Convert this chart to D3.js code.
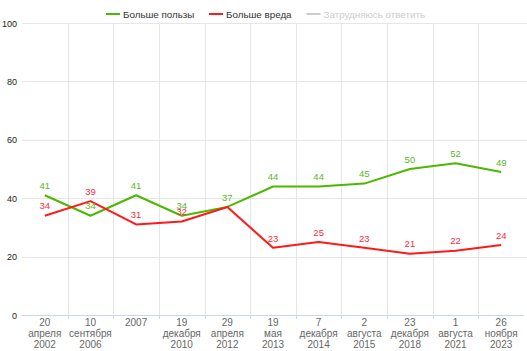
<!DOCTYPE html>
<html><head><meta charset="utf-8">
<script src="https://cdn.jsdelivr.net/npm/d3@7"></script>
<style>body{margin:0;background:#fff;}svg{display:block;font-family:"Liberation Sans",Arial,sans-serif;}</style>
</head><body>
<svg id="c" width="527" height="351"></svg>
<script>
const categories = [
  ["20","апреля","2002"],["10","сентября","2006"],["2007"],["19","декабря","2010"],
  ["29","апреля","2012"],["19","мая","2013"],["7","декабря","2014"],["2","августа","2015"],
  ["23","декабря","2018"],["1","августа","2021"],["26","ноября","2023"]
];
const benefit = [41,34,41,34,37,44,44,45,50,52,49];
const harm = [34,39,31,32,37,23,25,23,21,22,24];
const yTicks = [0,20,40,60,80,100];
const seriesNames = ["Больше пользы","Больше вреда","Затрудняюсь ответить"];
const seriesColors = ["#4cb800","#ff1a1a","#cccccc"];
const labelColors = ["#5cb81a","#ff2a3a"];

(function(){
const svg = d3.select("#c");
const pl = 22, pr = 524, pt = 23, pb = 315;
const x = d3.scaleBand().domain(d3.range(categories.length)).range([pl,pr]);
const y = d3.scaleLinear().domain([0,100]).range([pb,pt]);

svg.append("g").selectAll("line").data(yTicks.filter(d=>d>0)).join("line")
  .attr("x1",pl).attr("x2",527).attr("y1",d=>Math.round(y(d))+0.5).attr("y2",d=>Math.round(y(d))+0.5)
  .attr("stroke","#e6e6e6");
const bounds = d3.range(1,categories.length).map(i=>x(i));
svg.append("g").selectAll("line").data(bounds).join("line")
  .attr("x1",d=>Math.round(d)+0.5).attr("x2",d=>Math.round(d)+0.5).attr("y1",pt).attr("y2",pb)
  .attr("stroke","#e6e6e6");
svg.append("line").attr("x1",pl).attr("x2",pr).attr("y1",pb+0.5).attr("y2",pb+0.5).attr("stroke","#ccd6eb");
svg.append("g").selectAll("line").data(bounds).join("line")
  .attr("x1",d=>Math.round(d)+0.5).attr("x2",d=>Math.round(d)+0.5).attr("y1",pb).attr("y2",pb+4)
  .attr("stroke","#ccd6eb");
svg.append("g").selectAll("text").data(yTicks).join("text")
  .attr("x",17).attr("y",d=>y(d)+3.5).attr("text-anchor","end")
  .attr("font-size",9).attr("fill","#222").text(d=>d);
const xl = svg.append("g").selectAll("text").data(categories).join("text")
  .attr("text-anchor","middle").attr("font-size",10).attr("fill","#666");
xl.each(function(d,i){
  const t = d3.select(this);
  d.forEach((s,j)=>t.append("tspan").attr("x",x(i)+x.bandwidth()/2).attr("y",325.5+j*11).text(s));
});
const line = d3.line().x((d,i)=>x(i)+x.bandwidth()/2).y(d=>y(d));
[[benefit,seriesColors[0]],[harm,seriesColors[1]]].forEach(([data,col])=>{
  svg.append("path").datum(data).attr("d",line).attr("fill","none").attr("stroke",col).attr("stroke-width",2).attr("stroke-linejoin","round");
});
// data labels; a harm label identical to the benefit label at the same point is hidden (as in the source chart)
[[harm,labelColors[1],true],[benefit,labelColors[0],false]].forEach(([data,col,dedupe])=>{
  const items = data.map((v,i)=>({v,i})).filter(o=>!(dedupe && benefit[o.i]===o.v));
  svg.append("g").selectAll("text").data(items).join("text")
    .attr("x",o=>x(o.i)+x.bandwidth()/2).attr("y",o=>y(o.v)-6.3)
    .attr("text-anchor","middle").attr("font-size",9.5).attr("fill",col)
    .text(o=>o.v);
});
const legX = [106,209,306.5];
seriesNames.forEach((n,i)=>{
  const g = svg.append("g").attr("transform",`translate(${legX[i]},14)`);
  g.append("line").attr("x1",0).attr("x2",14).attr("y1",0).attr("y2",0).attr("stroke",seriesColors[i]).attr("stroke-width",2);
  g.append("text").attr("x",17).attr("y",3.5).attr("font-size",9.8).attr("fill",i<2?"#333":"#ccc").text(n);
});
})();
</script>
</body></html>
